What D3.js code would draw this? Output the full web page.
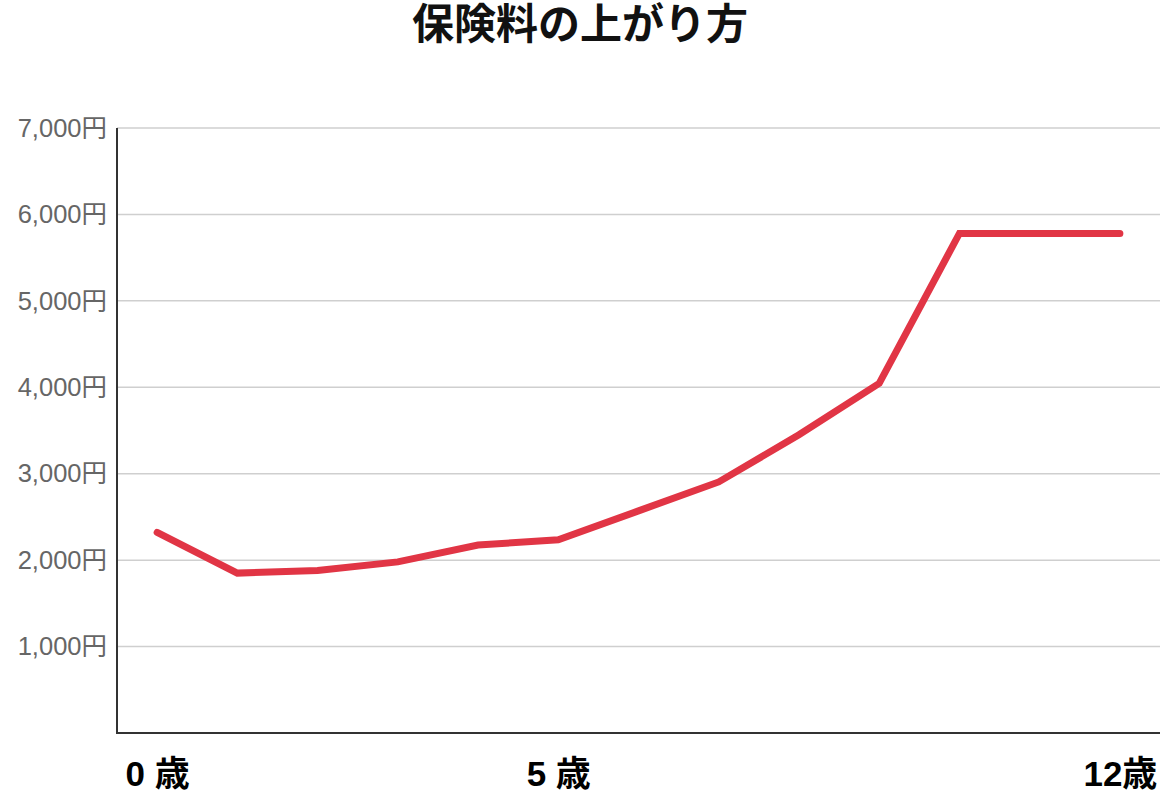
<!DOCTYPE html>
<html>
<head>
<meta charset="utf-8">
<script src="https://cdn.jsdelivr.net/npm/d3@7"></script>
<style>
  body { margin: 0; background: #fff; }
  svg { display: block; }
  .y-axis text { font-family: "Liberation Sans", "Noto Sans CJK JP", sans-serif; }
</style>
</head>
<body>
<div id="vis"></div>
<script>
// Data
var ages = [0, 1, 2, 3, 4, 5, 6, 7, 8, 9, 10, 11, 12];
var premiums = [2320, 1850, 1880, 1980, 2175, 2235, 2570, 2905, 3450, 4045, 5780, 5780, 5780];
var yTicks = [1000, 2000, 3000, 4000, 5000, 6000, 7000];
var xTicks = [0, 5, 12];
var xTickLabels = { 0: '0 歳', 5: '5 歳', 12: '12歳' };
var title = '保険料の上がり方';

var width = 1160;
var height = 791;
var margin = { top: 128, left: 117, bottom: 58, right: 0 };

var svg = d3.select('#vis').append('svg')
  .attr('width', width)
  .attr('height', height);

// x is padded half a step on each side so the first and last points sit inside
var xScale = d3.scaleLinear()
  .domain([-0.5, 12.5])
  .range([margin.left, width - margin.right]);

var yScale = d3.scaleLinear()
  .domain([0, 7000])
  .range([height - margin.bottom, margin.top]);

// Title
svg.append('text')
  .attr('x', 580)
  .attr('y', 39)
  .attr('text-anchor', 'middle')
  .style('font-family', '"Noto Sans CJK JP", sans-serif')
  .style('font-weight', 'bold')
  .style('font-size', '42px')
  .attr('fill', '#111')
  .text(title);

// Gridlines
svg.append('g')
  .selectAll('line')
  .data(yTicks)
  .enter()
  .append('line')
  .attr('x1', margin.left)
  .attr('x2', width)
  .attr('y1', function (d) { return yScale(d); })
  .attr('y2', function (d) { return yScale(d); })
  .attr('stroke', '#cfcfcf')
  .attr('stroke-width', 1.5);

// Y axis
var yAxis = d3.axisLeft(yScale)
  .tickValues(yTicks)
  .tickSize(0)
  .tickPadding(10)
  .tickFormat(function (d) { return d3.format(',')(d) + '円'; });

var yG = svg.append('g')
  .attr('class', 'y-axis')
  .attr('transform', 'translate(' + margin.left + ',0)')
  .call(yAxis);
yG.select('.domain').remove();
yG.selectAll('text')
  .attr('fill', '#666')
  .style('font-size', '25.5px');

// X axis
var xAxis = d3.axisBottom(xScale)
  .tickValues(xTicks)
  .tickSize(0)
  .tickPadding(28)
  .tickFormat(function (d) { return xTickLabels[d]; });

var xG = svg.append('g')
  .attr('transform', 'translate(0,' + (height - margin.bottom) + ')')
  .call(xAxis);
xG.select('.domain').remove();
xG.selectAll('text')
  .attr('fill', '#000')
  .style('font-family', '"Liberation Sans", "Noto Sans CJK JP", sans-serif')
  .style('font-weight', 'bold')
  .style('font-size', '35px');

// Axis lines (left and bottom)
svg.append('path')
  .attr('d', 'M' + margin.left + ',' + yScale(7000) +
    'V' + yScale(0) + 'H' + width)
  .attr('fill', 'none')
  .attr('stroke', '#333')
  .attr('stroke-width', 2);

// The line
var line = d3.line()
  .x(function (d, i) { return xScale(ages[i]); })
  .y(function (d) { return yScale(d); });

svg.append('path')
  .datum(premiums)
  .attr('d', line)
  .attr('fill', 'none')
  .attr('stroke', '#e13545')
  .attr('stroke-width', 7)
  .attr('stroke-linecap', 'round')
  .attr('stroke-linejoin', 'miter');
</script>
</body>
</html>
